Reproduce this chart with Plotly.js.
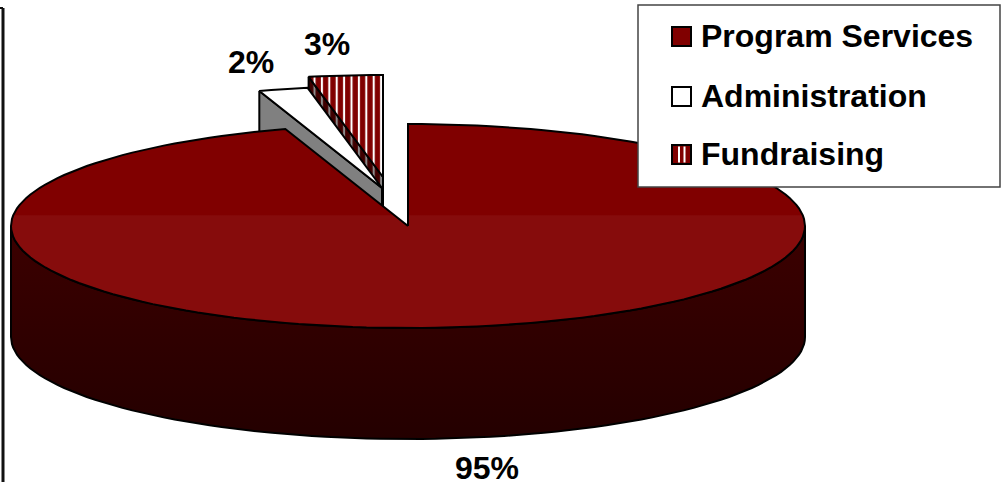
<!DOCTYPE html>
<html><head><meta charset="utf-8">
<script src="https://cdn.plot.ly/plotly-3.0.1.min.js"></script>
<style>html,body{margin:0;padding:0;background:#fff}#c{width:1002px;height:482px}</style>
</head><body><div id="c"></div>
<script>
const categories = ['Program Services', 'Administration', 'Fundraising'];
const values = [95, 2, 3];
const valueLabels = ['95%', '2%', '3%'];

const geom = {cx: 408, cy: 226, rx: 397, ry: 102, depth: 111};
const offsets = [[0, 0], [-26, -38], [-25, -49]];
const total = values.reduce((a, b) => a + b, 0);

function arc(a0, a1, ox, oy, dy) {
  const xs = [], ys = [], n = Math.max(2, Math.ceil(Math.abs(a1 - a0) * 0.5));
  for (let i = 0; i <= n; i++) {
    const t = (a0 + (a1 - a0) * i / n) * Math.PI / 180;
    xs.push(geom.cx + ox + geom.rx * Math.sin(t));
    ys.push(geom.cy + oy + dy - geom.ry * Math.cos(t));
  }
  return [xs, ys];
}
function wedgeTop(a0, a1, o) {
  const [xs, ys] = arc(a0, a1, o[0], o[1], 0);
  return [[geom.cx + o[0], ...xs, geom.cx + o[0]], [geom.cy + o[1], ...ys, geom.cy + o[1]]];
}
function radialSide(a, o) {
  const [xs, ys] = arc(a, a, o[0], o[1], 0);
  const x0 = geom.cx + o[0], y0 = geom.cy + o[1], d = geom.depth;
  return [[x0, xs[0], xs[0], x0, x0], [y0, ys[0], ys[0] + d, y0 + d, y0]];
}
const ang = [0];
values.forEach(v => ang.push(ang[ang.length - 1] + v / total * 360));
const black = {color: '#000', width: 2};
function poly(p, name, extra) {
  return Object.assign({type: 'scatter', mode: 'lines', x: p[0], y: p[1], name, fill: 'toself',
    line: black, hoverinfo: 'name'}, extra);
}
// main slice rim: visible lower half only
const rimTop = arc(90, 270, 0, 0, 0), rimBot = arc(270, 90, 0, 0, geom.depth);
const rim = [[...rimTop[0], ...rimBot[0], rimTop[0][0]], [...rimTop[1], ...rimBot[1], rimTop[1][0]]];

const traces = [
  poly(radialSide(ang[2], offsets[2]), categories[2], {fillcolor: '#400000',
    fillpattern: {shape: '|', bgcolor: '#400000', fgcolor: '#8a8a8a', size: 7.4, solidity: 0.28}}),
  poly(wedgeTop(ang[2], ang[3], offsets[2]), categories[2], {fillcolor: '#800000',
    fillpattern: {shape: '|', bgcolor: '#800000', fgcolor: '#ffffff', size: 7.4, solidity: 0.28}}),
  poly(radialSide(ang[1], offsets[1]), categories[1], {fillcolor: '#808080'}),
  poly(wedgeTop(ang[1], ang[2], offsets[1]), categories[1], {fillcolor: '#ffffff'}),
  poly(rim, categories[0], {fillgradient: {type: 'vertical', start: 226, stop: 438,
    colorscale: [[0, '#3c0000'], [1, '#240000']]}}),
  poly(wedgeTop(0, ang[1], offsets[0]), categories[0], {fillgradient: {type: 'vertical', start: 124, stop: 328,
    colorscale: [[0, '#800000'], [0.445, '#800000'], [0.45, '#860c0c'], [1, '#860c0c']]}})
];

const font = {family: '"Liberation Sans", Arial, sans-serif', size: 32, color: '#000'};
const txt = (x, y, text) => ({x, y, text, xref: 'x', yref: 'y', showarrow: false, font,
  xanchor: 'left', yanchor: 'middle'});
const ctr = (x, y, text) => Object.assign(txt(x, y, text), {xanchor: 'center'});
const rowY = [36.5, 96.5, 154.5];
const annotations = [
  ctr(487, 468, '<b>' + valueLabels[0] + '</b>'),
  ctr(251, 62, '<b>' + valueLabels[1] + '</b>'),
  ctr(327, 44, '<b>' + valueLabels[2] + '</b>')
].concat(categories.map((c, i) => txt(698.5, rowY[i] - 0.5, '<b>' + c + '</b>')));

const swatch = (i, fill) => ({type: 'rect', layer: 'above', x0: 672, x1: 691, y0: rowY[i] - 9.5, y1: rowY[i] + 9.5,
  xref: 'x', yref: 'y', fillcolor: fill, line: {color: '#000', width: 2}});
const stripe = (x) => ({type: 'rect', layer: 'above', x0: x, x1: x + 2, y0: rowY[2] - 8, y1: rowY[2] + 8,
  xref: 'x', yref: 'y', fillcolor: '#fff', line: {width: 0}});
const shapes = [
  {type: 'line', layer: 'below', x0: 3, x1: 3, y0: 8, y1: 482, xref: 'x', yref: 'y', line: {color: '#111', width: 3}},
  {type: 'line', layer: 'below', x0: 0, x1: 3, y0: 8, y1: 8, xref: 'x', yref: 'y', line: {color: '#111', width: 2}},
  {type: 'rect', layer: 'above', x0: 638, x1: 1000, y0: 5, y1: 187, xref: 'x', yref: 'y',
    fillcolor: '#fff', line: {color: '#444', width: 1.5}},
  swatch(0, '#800000'), swatch(1, '#fff'), swatch(2, '#800000'), stripe(678), stripe(683.5)
];

Plotly.newPlot('c', traces, {
  width: 1002, height: 482, margin: {l: 0, r: 0, t: 0, b: 0}, showlegend: false,
  paper_bgcolor: '#fff', plot_bgcolor: '#fff',
  xaxis: {range: [0, 1002], visible: false, fixedrange: true},
  yaxis: {range: [482, 0], visible: false, fixedrange: true},
  annotations, shapes
}, {displayModeBar: false, staticPlot: true});
</script></body></html>
